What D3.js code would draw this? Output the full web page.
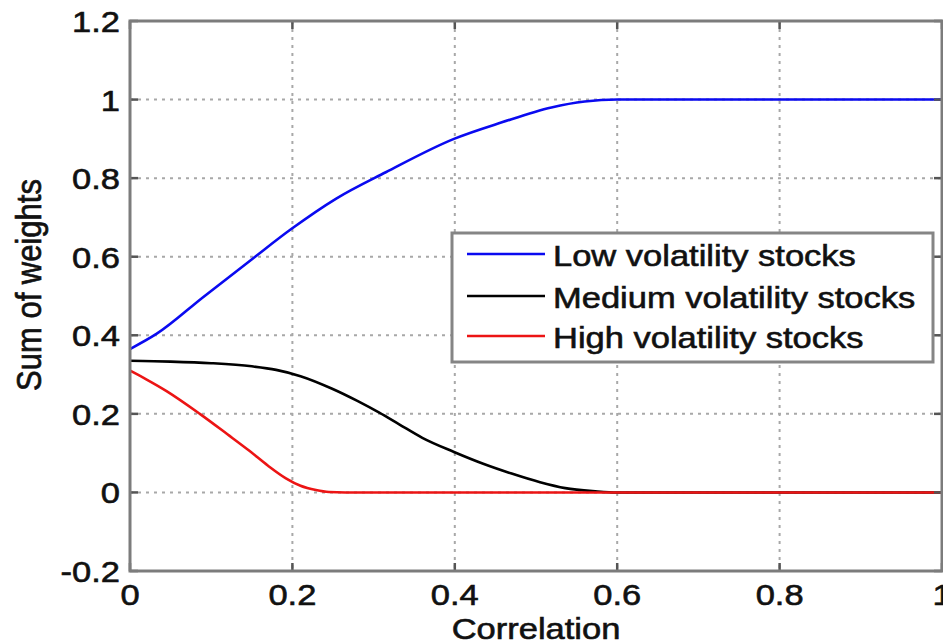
<!DOCTYPE html>
<html><head><meta charset="utf-8">
<script src="https://cdn.jsdelivr.net/npm/d3@7"></script>
<style>body{margin:0;background:#fff}svg{display:block}</style>
</head><body>
<svg id="c" width="943" height="641"></svg>
<script>
const xTicks = [0, 0.2, 0.4, 0.6, 0.8, 1];
const xTickLabels = ["0", "0.2", "0.4", "0.6", "0.8", "1"];
const yTicks = [-0.2, 0, 0.2, 0.4, 0.6, 0.8, 1, 1.2];
const yTickLabels = ["-0.2", "0", "0.2", "0.4", "0.6", "0.8", "1", "1.2"];
const seriesNames = ["Low volatility stocks", "Medium volatility stocks", "High volatility stocks"];
const seriesColors = ["#0a0af0", "#000000", "#ec1414"];
const lowX = [0, 0.033, 0.09, 0.151, 0.199, 0.254, 0.315, 0.399, 0.458, 0.519, 0.56, 0.6, 1];
const lowY = [0.365, 0.404, 0.497, 0.595, 0.671, 0.748, 0.815, 0.9, 0.942, 0.98, 0.995, 1.0, 1.0];
const medX = [0, 0.05, 0.1, 0.15, 0.18, 0.21, 0.249, 0.28, 0.307, 0.331, 0.36, 0.399, 0.435, 0.47, 0.505, 0.536, 0.573, 0.6, 1];
const medY = [0.335, 0.333, 0.329, 0.321, 0.312, 0.296, 0.264, 0.233, 0.203, 0.174, 0.139, 0.103, 0.073, 0.048, 0.026, 0.011, 0.003, 0, 0];
const highX = [0, 0.02, 0.045, 0.086, 0.12, 0.147, 0.17, 0.192, 0.21, 0.229, 0.245, 0.265, 1];
const highY = [0.31, 0.288, 0.258, 0.2, 0.148, 0.106, 0.068, 0.036, 0.017, 0.006, 0.001, 0, 0];
const xLabel = "Correlation";
const yLabel = "Sum of weights";

const seriesData = [
  lowX.map((x, i) => [x, lowY[i]]),
  medX.map((x, i) => [x, medY[i]]),
  highX.map((x, i) => [x, highY[i]])
];

const svg = d3.select("#c");
const L = 130, R = 942, T = 21, B = 571;
const x = d3.scaleLinear().domain([0, 1]).range([L, R]);
const y = d3.scaleLinear().domain([-0.2, 1.2]).range([B, T]);
const FONT = "'Liberation Sans', Arial, sans-serif";
const SX = 1.15;

// grid
const grid = svg.append("g");
xTicks.filter(v => v > 0 && v < 1).forEach(v => {
  grid.append("line").attr("x1", x(v)).attr("x2", x(v)).attr("y1", T).attr("y2", B)
    .attr("stroke", "#a8a8a8").attr("stroke-width", 2).attr("stroke-dasharray", "3,5");
});
yTicks.filter(v => v > -0.2 && v < 1.2).forEach(v => {
  grid.append("line").attr("x1", L).attr("x2", R).attr("y1", y(v)).attr("y2", y(v))
    .attr("stroke", "#a8a8a8").attr("stroke-width", 2).attr("stroke-dasharray", "3,5");
});

// lines
const line = d3.line().x(d => x(d[0])).y(d => y(d[1])).curve(d3.curveMonotoneX);
seriesData.forEach((d, i) => {
  svg.append("path").datum(d).attr("d", line).attr("fill", "none")
    .attr("stroke", seriesColors[i]).attr("stroke-width", 2.6);
});

// ticks (inward, all four sides)
const tk = svg.append("g").attr("stroke", "#555").attr("stroke-width", 2.5);
xTicks.forEach(v => {
  tk.append("line").attr("x1", x(v)).attr("x2", x(v)).attr("y1", B).attr("y2", B - 8);
  tk.append("line").attr("x1", x(v)).attr("x2", x(v)).attr("y1", T).attr("y2", T + 8);
});
yTicks.forEach(v => {
  tk.append("line").attr("x1", L).attr("x2", L + 8).attr("y1", y(v)).attr("y2", y(v));
  tk.append("line").attr("x1", R).attr("x2", R - 8).attr("y1", y(v)).attr("y2", y(v));
});

// frame
svg.append("rect").attr("x", L).attr("y", T).attr("width", R - L).attr("height", B - T)
  .attr("fill", "none").attr("stroke", "#7c7c7c").attr("stroke-width", 3);

function text(g, s, tx, ty, anchor, size, rot) {
  return g.append("text").attr("transform",
      `translate(${tx},${ty}) scale(${SX},1)` + (rot ? ` rotate(${rot})` : ""))
    .attr("text-anchor", anchor).attr("font-family", FONT).attr("font-size", size)
    .attr("fill", "#111").attr("stroke", "#111").attr("stroke-width", 0.6)
    .text(s);
}

// tick labels
const lab = svg.append("g");
xTicks.forEach((v, i) => text(lab, xTickLabels[i], x(v), 605, "middle", 30));
yTicks.forEach((v, i) => text(lab, yTickLabels[i], 120, y(v) + 11, "end", 30));

// axis labels
text(lab, xLabel, (L + R) / 2, 639, "middle", 30);
text(lab, yLabel, 41, 285, "middle", 31, -90);

// legend
const lg = svg.append("g");
lg.append("rect").attr("x", 452).attr("y", 233).attr("width", 481).attr("height", 129)
  .attr("fill", "#fff").attr("stroke", "#858585").attr("stroke-width", 3);
const rowY = [254, 296, 336];
seriesNames.forEach((n, i) => {
  lg.append("line").attr("x1", 467).attr("x2", 545).attr("y1", rowY[i]).attr("y2", rowY[i])
    .attr("stroke", seriesColors[i]).attr("stroke-width", 2.6);
  text(lg, n, 553, rowY[i] + 12, "start", 30);
});
</script>
</body></html>
